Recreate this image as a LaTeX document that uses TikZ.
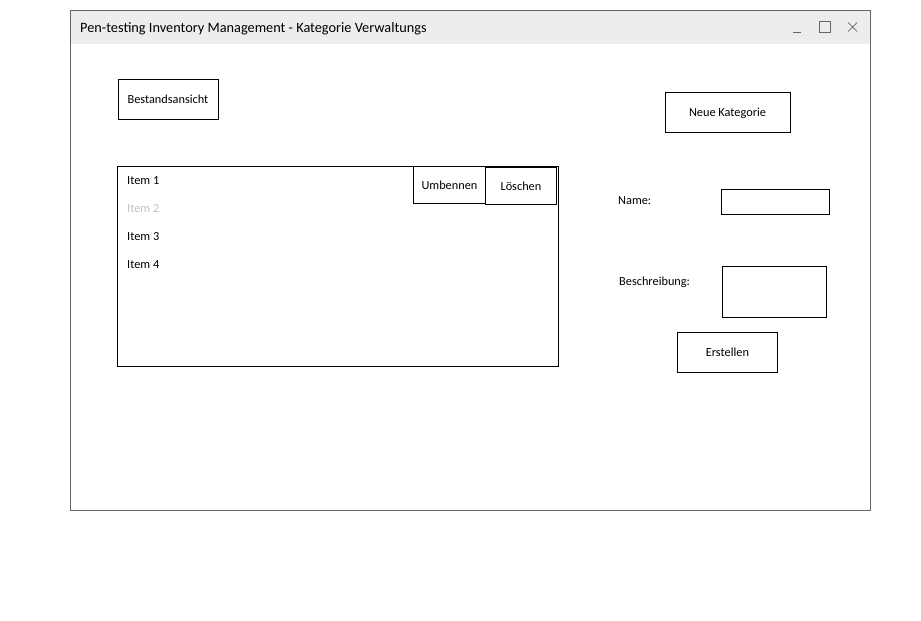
\documentclass[tikz,border=0pt]{standalone}
\usepackage{fontspec}
\setmainfont{Carlito}
\begin{document}
\begin{tikzpicture}[x=1pt,y=-1pt,
  box/.style={draw=black,line width=0.9pt,inner sep=0pt,text depth=0pt,font=\fontsize{12.3}{14}\selectfont},
  lbl/.style={anchor=west,inner sep=0pt,font=\fontsize{12.3}{14}\selectfont},
  ctl/.style={draw=black!60,line width=0.9pt}]
\useasboundingbox (0,0) rectangle (921,621);
% window
\fill[black!7] (70,10) rectangle (870,44);
\node[draw=black!60,line width=0.9pt,minimum width=800pt,minimum height=500pt,inner sep=0pt,anchor=north west] (win) at (70,10) {};
\node[anchor=west,inner sep=0pt,font=\fontsize{14.3}{16}\selectfont] (title) at (80,29) {Pen-testing Inventory Management - Kategorie Verwaltungs};
% controls
\coordinate (minA) at (793,32); \coordinate (minB) at (801,32);
\draw[ctl] (minA) -- (minB);
\node[ctl,minimum width=11pt,minimum height=11pt,inner sep=0pt] (max) at (824.5,27) {};
\coordinate (xa) at (848,22.5); \coordinate (xb) at (857,31.5);
\coordinate (xc) at (848,31.5); \coordinate (xd) at (857,22.5);
\draw[draw=black!60,line width=0.7pt] (xa) -- (xb) (xc) -- (xd);
% buttons
\node[box,minimum width=100pt,minimum height=40pt] (bestand) at (168,99.5) {Bestandsansicht};
\node[box,minimum width=125pt,minimum height=40pt] (neue) at (727.5,112.5) {Neue Kategorie};
% list
\node[box,minimum width=441pt,minimum height=200pt,anchor=north west] (list) at (117,166) {};
\node[lbl] (i1) at (127,181) {Item 1};
\node[lbl,text=black!25] (i2) at (127,209) {Item 2};
\node[lbl] (i3) at (127,237) {Item 3};
\node[lbl] (i4) at (127,265) {Item 4};
\node[box,minimum width=72pt,minimum height=37pt,anchor=north west] (umb) at (413,166) {Umbennen};
\node[box,minimum width=71pt,minimum height=37pt,anchor=north west] (del) at (485,167) {Löschen};
% form
\node[lbl] (name) at (618,201) {Name:};
\node[box,minimum width=108pt,minimum height=25pt,anchor=north west] (namef) at (721,189) {};
\node[lbl] (besch) at (619,282) {Beschreibung:};
\node[box,minimum width=104pt,minimum height=51pt,anchor=north west] (beschf) at (722,266) {};
\node[box,minimum width=100pt,minimum height=40pt,anchor=north west] (erst) at (677,332) {Erstellen};
\end{tikzpicture}
\end{document}
